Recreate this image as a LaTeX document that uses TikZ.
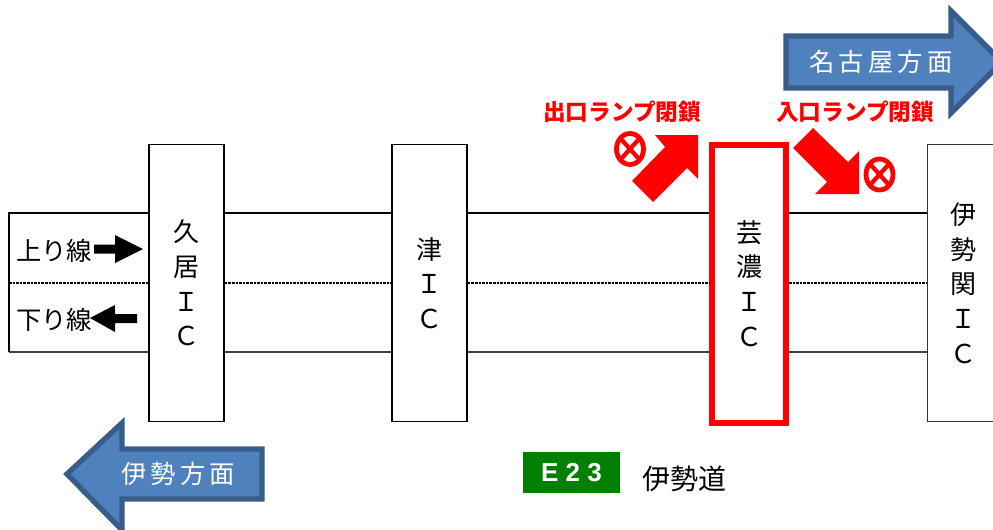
\documentclass[tikz,border=0pt]{standalone}
\usepackage{fontspec}
\setmainfont{Noto Sans CJK JP}
\newfontfamily\signfont[LetterSpace=28]{Liberation Sans}
\usetikzlibrary{positioning}
\definecolor{dirblue}{HTML}{4F81BD}
\definecolor{dirline}{HTML}{385D8A}
\definecolor{roadgreen}{HTML}{008000}
\tikzset{
	icbox/.style={draw=black, line width=1.1, fill=white, minimum width=56.25, minimum height=208, inner sep=0, align=center, font=\fontsize{19.5}{26}\selectfont},
	roadline/.style={black, line width=1.1},
	thinline/.style={black!75, line width=0.8},
	centerline/.style={black, line width=1.1, dash pattern=on 2 off 0.7},
	dirarrow/.style={fill=dirblue, draw=dirline, line width=4, miter limit=10},
	dirtext/.style={text=white, inner sep=0, font=\fontsize{19}{24}\selectfont},
	closetext/.style={text=red, inner sep=0, font=\fontsize{17}{20}\selectfont\bfseries},
	lanetext/.style={inner sep=0, font=\fontsize{19}{24}\selectfont},
}
\begin{document}
\begin{tikzpicture}[x=0.75pt, y=-0.75pt]

	\useasboundingbox (0,0) rectangle (993,529);

	% road corners
	\coordinate (rdT) at (9,213);
	\coordinate (rdM) at (9,283);
	\coordinate (rdB) at (9,352);

	% interchanges
	\node[icbox] (kui) at (186.5,283) {久\\居\\Ｉ\\Ｃ};
	\node[icbox] (tsu) at (429.5,283) {津\\Ｉ\\Ｃ};
	\node[icbox, draw=red, line width=4.5, minimum width=55.5, minimum height=208.5] (geino) at (749,283.5) {芸\\濃\\Ｉ\\Ｃ};
	\node[icbox, line width=0.9, draw=black!80, minimum width=54] (seki) at (963.5,283) {伊\\勢\\関\\Ｉ\\Ｃ};

	% road
	\draw[roadline] (rdB) -- (rdT) -- (rdT -| kui.west);
	\draw[thinline] (rdB) -- (rdB -| kui.west);
	\draw[centerline] (rdM) -- (rdM -| kui.west);
	\foreach \a/\b in {kui/tsu, tsu/geino, geino/seki}
		{
			\draw[roadline] (rdT -| \a.east) -- (rdT -| \b.west);
			\draw[centerline] (rdM -| \a.east) -- (rdM -| \b.west);
			\draw[thinline] (rdB -| \a.east) -- (rdB -| \b.west);
		}

	% lanes
	\node[lanetext, anchor=west] (up) at (16,251) {上り線};
	\node[lanetext, anchor=west] (down) at (16,320) {下り線};
	\fill (94,244.5) -- (115,244.5) -- (115,235) -- (143,249) -- (115,263) -- (115,253.5) -- (94,253.5) -- cycle;
	\fill (137,314) -- (115,314) -- (115,305) -- (90,318) -- (115,332) -- (115,323) -- (137,323) -- cycle;

	% directions
	\draw[dirarrow] (786,36) -- (951,36) -- (951,11) -- (1002,62) -- (951,113) -- (951,88) -- (786,88) -- cycle;
	\node[dirtext] (nagoya) at (881,62) {名\,古\,屋\,方\,面};
	\draw[dirarrow] (262,449) -- (122,449) -- (122,423) -- (67,474) -- (122,530) -- (122,499) -- (262,499) -- cycle;
	\node[dirtext] (ise) at (178,474) {伊\,勢\,方\,面};

	% closures
	\node[closetext] (outtext) at (622,112) {出口ランプ閉鎖};
	\node[closetext] (intext) at (855,112) {入口ランプ閉鎖};
	\fill[red] (632,181) -- (653,202) -- (687,168) -- (698,179) -- (698,135) -- (655,135) -- (665,147) -- cycle;
	\fill[red] (813,128) -- (793,148) -- (827,182) -- (815,194) -- (859,194) -- (859,151) -- (848,162) -- cycle;
	\foreach \cx/\cy in {630/149, 879.5/174.5}
		{
			\draw[red, line width=3.6] (\cx,\cy) ellipse (13.5 and 15.5);
			\draw[red, line width=3.2] (\cx-9,\cy-10) -- (\cx+9,\cy+10) (\cx-9,\cy+10) -- (\cx+9,\cy-10);
		}

	% route sign
	\node[fill=roadgreen, text=white, minimum width=72.75, minimum height=31, inner sep=0, font=\fontsize{19.5}{20}\selectfont\signfont\bfseries] (sign) at (571.5,472.5) {E23};
	\node[inner sep=0, font=\fontsize{21}{24}\selectfont, right=21.5 of sign, yshift=-5] (road) {伊勢道};

\end{tikzpicture}
\end{document}
